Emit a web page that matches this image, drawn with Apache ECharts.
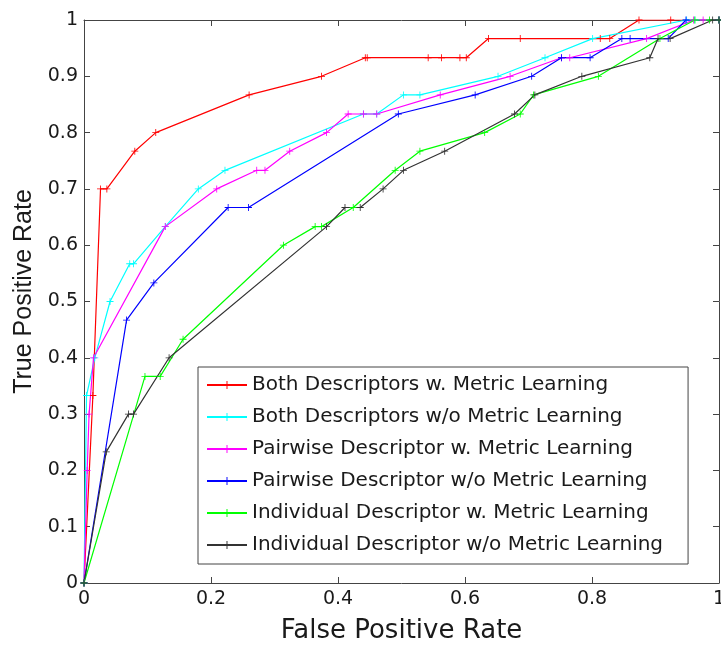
<!DOCTYPE html>
<html lang="en">
<head>
    <meta charset="UTF-8">
    <title>ROC</title>
    <script src="https://cdn.jsdelivr.net/npm/echarts@6/dist/echarts.min.js"></script>
    <style>
        html, body { margin: 0; padding: 0; background: #fff; }
    </style>
</head>
<body>
    <div id="main" style="width:721px;height:646px;"></div>
</body>
<script type="text/javascript">
    // ROC points: [false positive rate, true positive rate]
    var bothW = [[0, 0], [0.014, 0.333], [0.026, 0.7], [0.036, 0.7], [0.08, 0.767], [0.113, 0.8], [0.26, 0.867],
        [0.374, 0.9], [0.443, 0.933], [0.446, 0.933], [0.542, 0.933], [0.563, 0.933], [0.592, 0.933], [0.602, 0.933],
        [0.637, 0.967], [0.687, 0.967], [0.813, 0.967], [0.828, 0.967], [0.874, 1], [0.924, 1], [1, 1]];
    var bothWo = [[0, 0], [0.004, 0.333], [0.017, 0.4], [0.041, 0.5], [0.072, 0.567], [0.078, 0.567], [0.128, 0.633],
        [0.18, 0.7], [0.222, 0.733], [0.44, 0.833], [0.461, 0.833], [0.503, 0.867], [0.529, 0.867], [0.652, 0.9],
        [0.726, 0.933], [0.801, 0.967], [0.949, 1], [0.962, 1], [1, 1]];
    var pairW = [[0, 0], [0.005, 0.2], [0.008, 0.3], [0.015, 0.4], [0.128, 0.633], [0.209, 0.7], [0.272, 0.733],
        [0.285, 0.733], [0.324, 0.767], [0.382, 0.8], [0.416, 0.833], [0.44, 0.833], [0.461, 0.833], [0.561, 0.867],
        [0.671, 0.9], [0.752, 0.933], [0.765, 0.933], [0.886, 0.967], [0.96, 1], [0.975, 1], [1, 1]];
    var pairWo = [[0, 0], [0.067, 0.467], [0.11, 0.533], [0.227, 0.667], [0.259, 0.667], [0.495, 0.833],
        [0.616, 0.867], [0.705, 0.9], [0.752, 0.933], [0.797, 0.933], [0.847, 0.967], [0.86, 0.967], [0.92, 0.967],
        [0.948, 1], [1, 1]];
    var indW = [[0, 0], [0.096, 0.367], [0.12, 0.367], [0.156, 0.433], [0.314, 0.6], [0.364, 0.633], [0.374, 0.633],
        [0.424, 0.667], [0.49, 0.733], [0.529, 0.767], [0.631, 0.8], [0.687, 0.833], [0.708, 0.867], [0.81, 0.9],
        [0.907, 0.967], [0.962, 1], [0.985, 1], [1, 1]];
    var indWo = [[0, 0], [0.035, 0.233], [0.07, 0.3], [0.078, 0.3], [0.134, 0.4], [0.382, 0.633], [0.411, 0.667],
        [0.435, 0.667], [0.471, 0.7], [0.503, 0.733], [0.568, 0.767], [0.678, 0.833], [0.71, 0.867], [0.784, 0.9],
        [0.891, 0.933], [0.904, 0.967], [0.923, 0.967], [0.99, 1], [1, 1]];

    var names = ['Both Descriptors w. Metric Learning', 'Both Descriptors w/o Metric Learning',
        'Pairwise Descriptor w. Metric Learning', 'Pairwise Descriptor w/o Metric Learning',
        'Individual Descriptor w. Metric Learning', 'Individual Descriptor w/o Metric Learning'];
    var colors = ['#ff0000', '#00ffff', '#ff00ff', '#0000ff', '#00ff00', '#333333'];
    var curves = [bothW, bothWo, pairW, pairWo, indW, indWo];

    // '+' marker like matlab
    var plus = 'path://M-0.12,-1L0.12,-1L0.12,-0.12L1,-0.12L1,0.12L0.12,0.12L0.12,1L-0.12,1L-0.12,0.12L-1,0.12L-1,-0.12L-0.12,-0.12Z';

    var axisColor = '#444';
    var textColor = '#1a1a1a';
    var tickFont = {fontFamily: 'DejaVu Sans', fontSize: 19, color: textColor};

    var series = [];
    for (var i = 0; i < curves.length; i++) {
        series.push({
            name: names[i],
            type: 'line',
            data: curves[i],
            symbol: plus,
            symbolSize: 7,
            lineStyle: {width: 1.2, color: colors[i]},
            itemStyle: {color: colors[i]},
            emphasis: {disabled: true}
        });
    }

    var myChart = echarts.init(document.getElementById('main'));
    option = {
        animation: false,
        grid: {left: 84, right: 2, top: 20, bottom: 63, outerBoundsMode: 'none', containLabel: false},
        legend: {
            orient: 'vertical',
            left: 198,
            top: 367,
            padding: [8, 25, 9, 8],
            itemGap: 12,
            itemWidth: 40,
            itemHeight: 10,
            backgroundColor: '#fff',
            borderColor: axisColor,
            borderWidth: 1,
            borderRadius: 0,
            textStyle: {fontFamily: 'DejaVu Sans', fontSize: 20, color: textColor},
            data: names
        },
        xAxis: [
            {
                type: 'value', min: 0, max: 1, interval: 0.2, position: 'bottom',
                axisLine: {show: true, onZero: false, lineStyle: {color: axisColor}},
                axisTick: {show: true, inside: true, length: 6, lineStyle: {color: axisColor}},
                axisLabel: {margin: 7, fontFamily: tickFont.fontFamily, fontSize: tickFont.fontSize, color: textColor},
                splitLine: {show: false},
                name: 'False Positive Rate',
                nameLocation: 'middle',
                nameGap: 35,
                nameTextStyle: {fontFamily: 'DejaVu Sans', fontSize: 26, color: textColor}
            },
            {
                type: 'value', min: 0, max: 1, interval: 0.2, position: 'top',
                axisLine: {show: true, onZero: false, lineStyle: {color: axisColor}},
                axisTick: {show: true, inside: true, length: 6, lineStyle: {color: axisColor}},
                axisLabel: {show: false},
                splitLine: {show: false}
            }
        ],
        yAxis: [
            {
                type: 'value', min: 0, max: 1, interval: 0.1, position: 'left',
                axisLine: {show: true, onZero: false, lineStyle: {color: axisColor}},
                axisTick: {show: true, inside: true, length: 6, lineStyle: {color: axisColor}},
                axisLabel: {margin: 6, fontFamily: tickFont.fontFamily, fontSize: tickFont.fontSize, color: textColor},
                splitLine: {show: false},
                name: 'True Positive Rate',
                nameLocation: 'middle',
                nameGap: 46,
                nameTextStyle: {fontFamily: 'Liberation Sans', fontSize: 25, color: textColor, padding: [0, 0, 0, 20]}
            },
            {
                type: 'value', min: 0, max: 1, interval: 0.1, position: 'right',
                axisLine: {show: true, onZero: false, lineStyle: {color: axisColor}},
                axisTick: {show: true, inside: true, length: 6, lineStyle: {color: axisColor}},
                axisLabel: {show: false},
                splitLine: {show: false}
            }
        ],
        series: series
    };
    myChart.setOption(option);
</script>
</html>
